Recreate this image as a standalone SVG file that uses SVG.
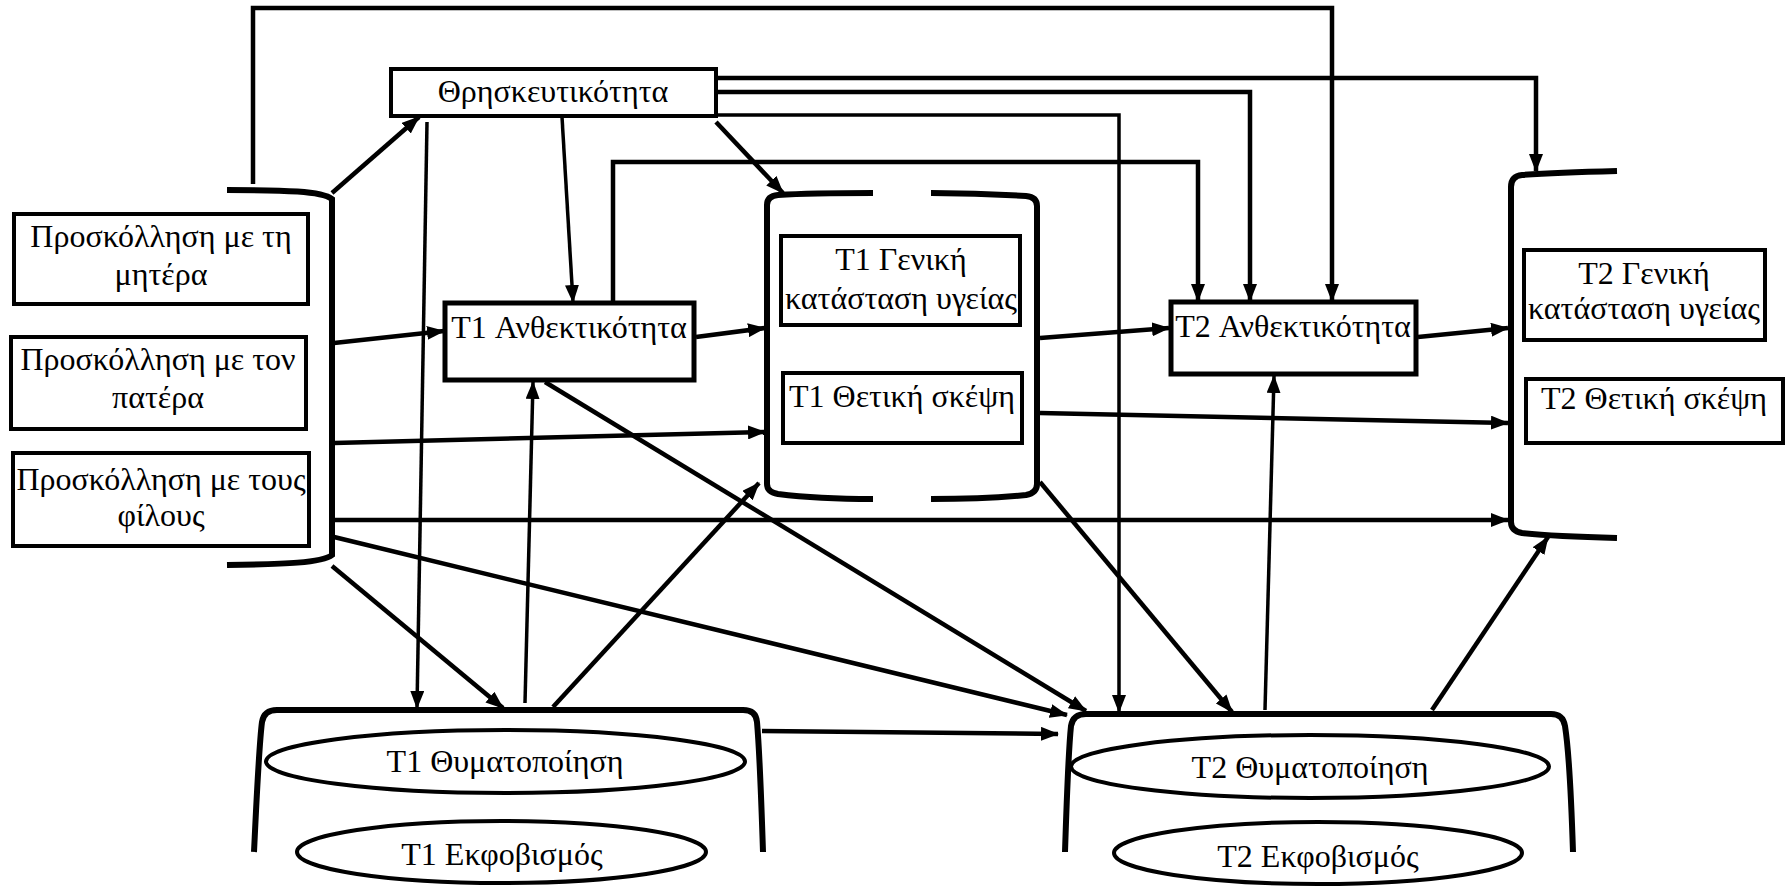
<svg xmlns="http://www.w3.org/2000/svg" width="1787" height="886" viewBox="0 0 1787 886">
<style>
.bx{fill:#fff;stroke:#000;stroke-width:4}
.bx5{fill:#fff;stroke:#000;stroke-width:5}
.el{fill:#fff;stroke:#000;stroke-width:4}
.br{fill:none;stroke:#000;stroke-width:6;stroke-linecap:butt}
.t{font-family:"Liberation Serif","DejaVu Serif",serif;font-size:32px;fill:#000;text-anchor:middle}
.c{fill:none;stroke:#000;stroke-width:4.5}
.c3{fill:none;stroke:#000;stroke-width:3.5}
</style>
<defs>
<marker id="ah" markerWidth="18" markerHeight="14" refX="17" refY="7" orient="auto" markerUnits="userSpaceOnUse"><path d="M0,0 L18,7 L0,14 z" fill="#000"/></marker>
</defs>
<rect width="1787" height="886" fill="#fff"/>

<g id="connectors">
<path class="c" d="M716,78 H1536 V171" marker-end="url(#ah)"/>
<path class="c" d="M716,92 H1250 V301" marker-end="url(#ah)"/>
<path class="c3" d="M716,115 H1119 V712" marker-end="url(#ah)"/>
<path class="c" d="M716,122 L783,193" marker-end="url(#ah)"/>
<path class="c3" d="M562,117 L573,302" marker-end="url(#ah)"/>
<path class="c3" d="M427,122 L417,708" marker-end="url(#ah)"/>
<path class="c" d="M332,193 L419,117" marker-end="url(#ah)"/>
<path class="c" d="M253,184 V8 H1332 V301" marker-end="url(#ah)"/>
<path class="c" d="M334,343 L444,331" marker-end="url(#ah)"/>
<path class="c" d="M334,443 L765,432" marker-end="url(#ah)"/>
<path class="c" d="M334,520 L1508,520" marker-end="url(#ah)"/>
<path class="c" d="M334,537 L1067,715" marker-end="url(#ah)"/>
<path class="c" d="M332,566 L503,708" marker-end="url(#ah)"/>
<path class="c" d="M613,302 V162 H1198 V301" marker-end="url(#ah)"/>
<path class="c" d="M696,337 L765,328" marker-end="url(#ah)"/>
<path class="c" d="M545,382 L1086,711" marker-end="url(#ah)"/>
<path class="c3" d="M525,703 L533,382" marker-end="url(#ah)"/>
<path class="c" d="M553,707 L759,483" marker-end="url(#ah)"/>
<path class="c" d="M762,731 L1058,734" marker-end="url(#ah)"/>
<path class="c" d="M1040,338 L1169,328" marker-end="url(#ah)"/>
<path class="c" d="M1040,413 L1508,423" marker-end="url(#ah)"/>
<path class="c" d="M1040,482 L1232,712" marker-end="url(#ah)"/>
<path class="c" d="M1418,337 L1508,328" marker-end="url(#ah)"/>
<path class="c3" d="M1265,710 L1274,376" marker-end="url(#ah)"/>
<path class="c" d="M1432,710 L1548,537" marker-end="url(#ah)"/>
</g>

<g id="religiosity">
<rect class="bx" x="391" y="69" width="325" height="47"/>
<text class="t" x="553" y="102">Θρησκευτικότητα</text>
</g>

<g id="attachment-group">
<path class="br" d="M227,190 C285,190 322,191 332,199 L332,555 C322,563 285,564 227,565"/>
</g>
<g id="attach-mother">
<rect class="bx" x="14" y="214" width="294" height="90"/>
<text class="t" x="161" y="247">Προσκόλληση με τη</text>
<text class="t" x="161" y="285">μητέρα</text>
</g>
<g id="attach-father">
<rect class="bx" x="11" y="337" width="295" height="92"/>
<text class="t" x="158" y="370">Προσκόλληση με τον</text>
<text class="t" x="158" y="408">πατέρα</text>
</g>
<g id="attach-friends">
<rect class="bx" x="13" y="453" width="296" height="93"/>
<text class="t" x="161" y="490">Προσκόλληση με τους</text>
<text class="t" x="161" y="526">φίλους</text>
</g>

<g id="t1-resilience">
<rect class="bx5" x="445" y="303" width="249" height="77"/>
<text class="t" x="569" y="338">T1 Ανθεκτικότητα</text>
</g>

<g id="t1-outcomes">
<path class="br" d="M767,470 V205 Q767,196 778,195 C810,193 840,193 873,193"/>
<path class="br" d="M931,193 C965,193 995,194 1026,196 Q1037,197 1037,206 V470"/>
<path class="br" d="M767,470 V484 Q767,492 778,494 C810,498 840,499 873,499"/>
<path class="br" d="M931,499 C965,499 995,498 1026,495 Q1037,493 1037,484 V470"/>
</g>
<g id="t1-health">
<rect class="bx" x="781" y="236" width="239" height="89"/>
<text class="t" x="901" y="270">T1 Γενική</text>
<text class="t" x="901" y="309">κατάσταση υγείας</text>
</g>
<g id="t1-positive">
<rect class="bx" x="783" y="373" width="239" height="70"/>
<text class="t" x="902" y="407">T1 Θετική σκέψη</text>
</g>

<g id="t2-resilience">
<rect class="bx5" x="1171" y="302" width="245" height="72"/>
<text class="t" x="1293" y="337">T2 Ανθεκτικότητα</text>
</g>

<g id="t2-outcomes">
<path class="br" d="M1617,171 C1580,172 1550,173 1522,175 Q1511,176 1511,187 V522 Q1511,531 1522,533 C1550,536 1580,537 1617,538"/>
</g>
<g id="t2-health">
<rect class="bx" x="1524" y="250" width="241" height="90"/>
<text class="t" x="1644" y="284">T2 Γενική</text>
<text class="t" x="1644" y="319">κατάσταση υγείας</text>
</g>
<g id="t2-positive">
<rect class="bx" x="1526" y="379" width="257" height="64"/>
<text class="t" x="1654" y="409">T2 Θετική σκέψη</text>
</g>

<g id="t1-victim-group">
<path class="br" d="M254,852 C257,790 259,745 262,722 Q264,710 277,710 L743,710 Q756,710 757,722 C759,745 761,790 763,852"/>
</g>
<g id="t1-victimization">
<ellipse class="el" cx="505.5" cy="761.5" rx="239.5" ry="31.5"/>
<text class="t" x="505" y="772">T1 Θυματοποίηση</text>
</g>
<g id="t1-bullying">
<ellipse class="el" cx="501.5" cy="852" rx="204.5" ry="31"/>
<text class="t" x="502" y="865">T1 Εκφοβισμός</text>
</g>

<g id="t2-victim-group">
<path class="br" d="M1065,852 C1067,790 1069,745 1071,726 Q1073,714 1086,714 L1551,714 Q1563,714 1565,726 C1568,745 1571,790 1573,852"/>
</g>
<g id="t2-victimization">
<ellipse class="el" cx="1310" cy="766.5" rx="239" ry="31.5"/>
<text class="t" x="1310" y="778">T2 Θυματοποίηση</text>
</g>
<g id="t2-bullying">
<ellipse class="el" cx="1318" cy="853" rx="204" ry="31"/>
<text class="t" x="1318" y="867">T2 Εκφοβισμός</text>
</g>
</svg>
